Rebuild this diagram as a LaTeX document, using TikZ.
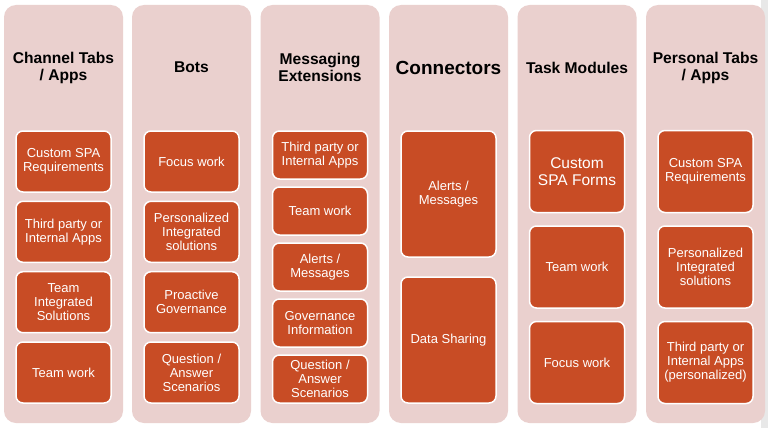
\documentclass[tikz,border=0pt]{standalone}
\usepackage{fontspec}
\setmainfont{Liberation Sans}
\definecolor{colbg}{RGB}{234,208,206}
\definecolor{boxbg}{RGB}{200,76,37}
\definecolor{edgegray}{RGB}{232,232,232}
\begin{document}
\begin{tikzpicture}[x=1pt,y=-1pt,
  column/.style={fill=colbg, rounded corners=12pt, draw=none, minimum width=119pt, minimum height=418pt, inner sep=0pt},
  item/.style={fill=boxbg, draw=white, line width=1.5pt, rounded corners=7pt, minimum width=95pt, text=white, align=center, inner sep=0pt, font=\fontsize{13}{14}\selectfont},
  bigitem/.style={item, font=\fontsize{15.5}{17}\selectfont},
  title/.style={font=\bfseries\fontsize{15.6}{17}\selectfont, align=center, text=black, inner sep=0pt},
  bigtitle/.style={title, font=\bfseries\fontsize{19}{21}\selectfont}]
\useasboundingbox (0,0) rectangle (768,428);
\fill[white] (0,0) rectangle (768,428);
\fill[edgegray] (761,0) rectangle (768,428);

% columns
\node[column] (c1) at (63.5,214) {};
\node[column] (c2) at (191.5,214) {};
\node[column] (c3) at (320,214) {};
\node[column] (c4) at (448.5,214) {};
\node[column] (c5) at (577,214) {};
\node[column] (c6) at (705.5,214) {};

% titles
\node[title] (t1) at (63.5,67.5) {Channel Tabs\\/ Apps};
\node[title] (t2) at (191.5,67.5) {Bots};
\node[title] (t3) at (320,67.5) {Messaging\\Extensions};
\node[bigtitle] (t4) at (448.5,68) {Connectors};
\node[title] (t5) at (577,67.5) {Task Modules};
\node[title] (t6) at (705.5,67.5) {Personal Tabs\\/ Apps};

% column 1
\node[item, minimum height=61pt] (a1) at (63.5,161.5) {Custom SPA\\Requirements};
\node[item, minimum height=61pt] (a2) at (63.5,231.8) {Third party or\\Internal Apps};
\node[item, minimum height=61pt] (a3) at (63.5,302.2) {Team\\Integrated\\Solutions};
\node[item, minimum height=61pt] (a4) at (63.5,372.5) {Team work};

% column 2
\node[item, minimum height=61pt] (b1) at (191.5,161.5) {Focus work};
\node[item, minimum height=61pt] (b2) at (191.5,231.8) {Personalized\\Integrated\\solutions};
\node[item, minimum height=61pt] (b3) at (191.5,302.2) {Proactive\\Governance};
\node[item, minimum height=61pt] (b4) at (191.5,372.5) {Question /\\Answer\\Scenarios};

% column 3
\node[item, minimum height=48pt] (m1) at (320,155) {Third party or\\Internal Apps};
\node[item, minimum height=48pt] (m2) at (320,211) {Team work};
\node[item, minimum height=48pt] (m3) at (320,267) {Alerts /\\Messages};
\node[item, minimum height=48pt] (m4) at (320,323) {Governance\\Information};
\node[item, minimum height=48pt] (m5) at (320,379) {Question /\\Answer\\Scenarios};

% column 4
\node[item, minimum height=126pt] (n1) at (448.5,194) {Alerts /\\Messages};
\node[item, minimum height=126pt] (n2) at (448.5,340) {Data Sharing};

% column 5
\node[bigitem, minimum height=82pt] (k1) at (577,171.5) {Custom\\SPA Forms};
\node[item, minimum height=82pt] (k2) at (577,267) {Team work};
\node[item, minimum height=82pt] (k3) at (577,362.5) {Focus work};

% column 6
\node[item, minimum height=82pt] (p1) at (705.5,171.5) {Custom SPA\\Requirements};
\node[item, minimum height=82pt] (p2) at (705.5,267) {Personalized\\Integrated\\solutions};
\node[item, minimum height=82pt] (p3) at (705.5,362.5) {Third party or\\Internal Apps\\(personalized)};
\end{tikzpicture}
\end{document}
